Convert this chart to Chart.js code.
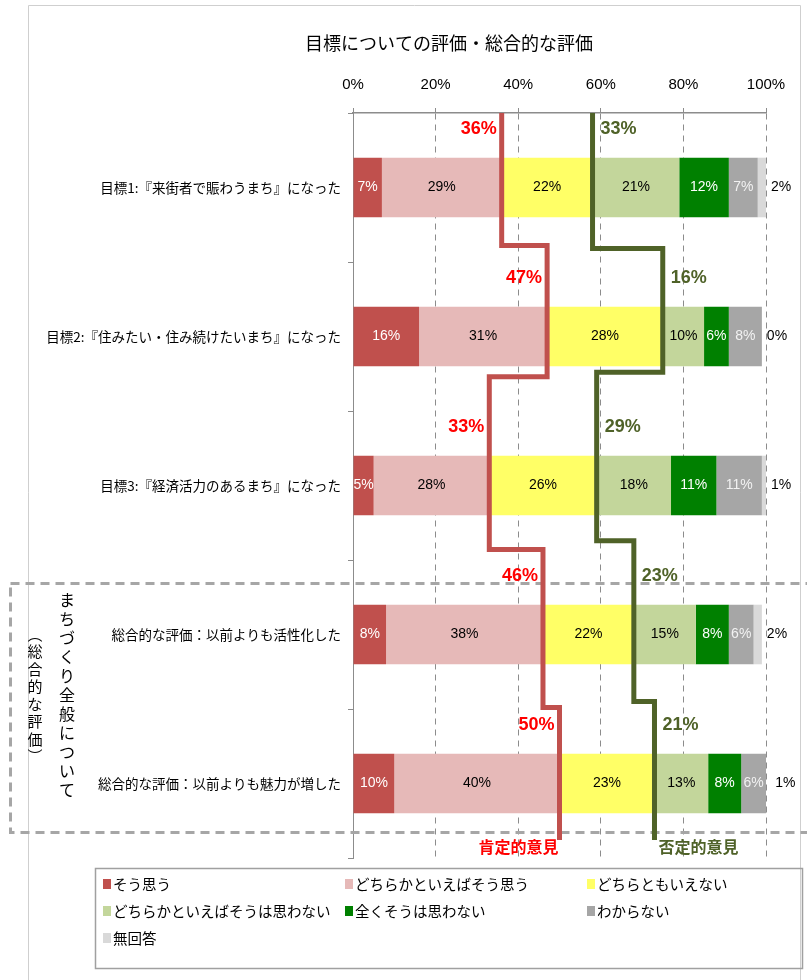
<!DOCTYPE html>
<html><head><meta charset="utf-8">
<script src="https://cdn.jsdelivr.net/npm/chart.js@4.4.1/dist/chart.umd.min.js"></script>
<style>html,body{margin:0;padding:0;background:#fff;}canvas{display:block;}</style>
</head><body>
<canvas id="c" width="807" height="980"></canvas>
<script>
// ---- data ----
const categories = [
  '目標1:『来街者で賑わうまち』になった',
  '目標2:『住みたい・住み続けたいまち』になった',
  '目標3:『経済活力のあるまち』になった',
  '総合的な評価：以前よりも活性化した',
  '総合的な評価：以前よりも魅力が増した'
];
const seriesNames = ['そう思う','どちらかといえばそう思う','どちらともいえない','どちらかといえばそうは思わない','全くそうは思わない','わからない','無回答'];
const soOmou     = [7, 16, 5, 8, 10];
const dochiraSo  = [29, 31, 28, 38, 40];
const dochiraMo  = [22, 28, 26, 22, 23];
const dochiraNot = [21, 10, 18, 15, 13];
const mattakuNot = [12, 6, 11, 8, 8];
const wakaranai  = [7, 8, 11, 6, 6];
const muKaitou   = [2, 0, 1, 2, 1];
const xTickLabels = ['0%','20%','40%','60%','80%','100%'];
const chartTitle = '目標についての評価・総合的な評価';
const groupLabel1 = 'まちづくり全般について';
const groupLabel2 = '︵総合的な評価︶';
const posLabel = '肯定的意見';
const negLabel = '否定的意見';

// ---- styles ----
const barColors = ['#C0504D','#E6B9B8','#FFFF66','#C3D69B','#008000','#A6A6A6','#D9D9D9'];
const barLabelColors = ['#FFFFFF','#000000','#000000','#000000','#FFFFFF','#F2F2F2','#000000'];
const redLine = '#C0504D', greenLine = '#4F6228';
const redText = '#FF0000', greenText = '#4F6228';
const CJK = '"Noto Sans CJK JP", "Noto Sans", sans-serif';
const NUM = '"Liberation Sans Narrow", "Liberation Sans", "Noto Sans", sans-serif';
// step positions (in category units) of the connector lines
const redSteps   = [0.39, 1.27, 2.43, 3.49, 4.38];
const greenSteps = [0.41, 1.24, 2.37, 3.45, 4.38];

const allSeries = [soOmou, dochiraSo, dochiraMo, dochiraNot, mattakuNot, wakaranai, muKaitou];
const posPct = soOmou.map((v,i)=>v + dochiraSo[i]);
const negEdge = posPct.map((v,i)=>v + dochiraMo[i]);
const negPct = dochiraNot.map((v,i)=>v + mattakuNot[i]);

function stepPoints(xs, steps){
  const pts = [{x: xs[0], y: -0.5}];
  for (let i=0;i<xs.length;i++){
    pts.push({x: xs[i], y: steps[i]});
    if (i < xs.length-1) pts.push({x: xs[i+1], y: steps[i]});
  }
  return pts;
}

const datasets = seriesNames.map((n,i)=>({
  type:'bar', label:n, data: allSeries[i], backgroundColor: barColors[i],
  borderWidth:0, barPercentage:0.4, categoryPercentage:1, order:1,
  grouped:false, stack:'s', xAxisID:'x', yAxisID:'y'
}));
datasets.push({
  type:'line', label:'pos', data: stepPoints(posPct, redSteps), borderColor: redLine,
  borderWidth:5, pointRadius:0, tension:0, fill:false, order:0, indexAxis:'y', stack:'r',
  xAxisID:'xLine', yAxisID:'yLine', borderJoinStyle:'miter'
});
datasets.push({
  type:'line', label:'neg', data: stepPoints(negEdge, greenSteps), borderColor: greenLine,
  borderWidth:5, pointRadius:0, tension:0, fill:false, order:0, indexAxis:'y', stack:'g',
  xAxisID:'xLine', yAxisID:'yLine', borderJoinStyle:'miter'
});

const deco = {
  id:'deco',
  beforeDraw(chart){
    const ctx = chart.ctx;
    ctx.save();
    ctx.fillStyle = '#fff'; ctx.fillRect(0,0,chart.width,chart.height);
    ctx.strokeStyle = '#CFCFCF'; ctx.lineWidth = 1;
    ctx.beginPath();
    ctx.moveTo(28.5, 980); ctx.lineTo(28.5, 5.5); ctx.lineTo(800.5, 5.5); ctx.lineTo(800.5, 980);
    ctx.stroke();
    ctx.restore();
  },
  beforeDatasetsDraw(chart){
    const ctx = chart.ctx;
    ctx.save();
    ctx.strokeStyle = '#A6A6A6'; ctx.lineWidth = 3; ctx.setLineDash([9,6]);
    ctx.strokeRect(10.5, 583.5, 830, 249);
    ctx.restore();
  },
  afterDatasetDraw(chart, args){
    if (args.index !== 0) return;
    const ctx = chart.ctx;
    ctx.save();
    ctx.font = '14px ' + NUM;
    ctx.textBaseline = 'middle';
    for (let di=0; di<seriesNames.length; di++){
      const meta = chart.getDatasetMeta(di);
      meta.data.forEach((bar,j)=>{
        const txt = allSeries[di][j] + '%';
        if (di === seriesNames.length-1){
          ctx.textAlign='left'; ctx.fillStyle='#000';
          ctx.fillText(txt, Math.max(bar.x,bar.base)+5, bar.y);
        } else {
          ctx.textAlign='center'; ctx.fillStyle=barLabelColors[di];
          ctx.fillText(txt, (bar.x+bar.base)/2, bar.y);
        }
      });
    }
    ctx.restore();
  },
  afterDraw(chart){
    const ctx = chart.ctx;
    const xs = chart.scales.xLine, yl = chart.scales.yLine;
    ctx.save();
    // title
    ctx.fillStyle = '#000'; ctx.textAlign='center'; ctx.textBaseline='middle';
    ctx.font = '18px ' + CJK;
    ctx.fillText(chartTitle, 449, 43);
    // step labels
    ctx.font = 'bold 18px "Liberation Sans", "Noto Sans", sans-serif';
    for (let i=0;i<categories.length;i++){
      const y = yl.getPixelForValue(i - 0.39);
      ctx.fillStyle = redText; ctx.textAlign='right';
      ctx.fillText(posPct[i]+'%', xs.getPixelForValue(posPct[i]) - 5, y);
      ctx.fillStyle = greenText; ctx.textAlign='left';
      ctx.fillText(negPct[i]+'%', xs.getPixelForValue(negEdge[i]) + 8, y);
    }
    // end labels
    ctx.font = 'bold 16px ' + CJK;
    const yEnd = 847;
    ctx.fillStyle = redText; ctx.textAlign='right';
    ctx.fillText(posLabel, xs.getPixelForValue(posPct[posPct.length-1]) - 1, yEnd);
    ctx.fillStyle = greenText; ctx.textAlign='left';
    ctx.fillText(negLabel, xs.getPixelForValue(negEdge[negEdge.length-1]) + 4, yEnd);
    // vertical group text
    ctx.fillStyle = '#000'; ctx.textAlign='center';
    ctx.font = '16px ' + CJK;
    Array.from(groupLabel1).forEach((ch,k)=>ctx.fillText(ch, 67, 600 + k*19));
    ctx.font = '15px ' + CJK;
    Array.from(groupLabel2).forEach((ch,k)=>ctx.fillText(ch, 35, 634 + k*17.5));
    // legend
    ctx.strokeStyle = '#A0A0A0'; ctx.lineWidth = 1.5;
    ctx.strokeRect(95.5, 868.5, 707, 100);
    const cols = [103, 345, 587], rows = [884, 911, 938];
    ctx.font = '14.5px ' + CJK; ctx.textAlign='left';
    seriesNames.forEach((n,i)=>{
      const cx = cols[i%3], cy = rows[Math.floor(i/3)];
      ctx.fillStyle = barColors[i];
      ctx.fillRect(cx, cy-5, 8, 10);
      ctx.fillStyle = '#000';
      ctx.fillText(n, cx+10, cy);
    });
    ctx.restore();
  }
};

new Chart(document.getElementById('c'), {
  type:'bar',
  data:{ labels: categories, datasets },
  options:{
    indexAxis:'y', responsive:false, animation:false, devicePixelRatio:1,
    layout:{ padding:{ left:0, right:41, top:0, bottom:122 } },
    plugins:{ legend:{display:false}, tooltip:{enabled:false}, title:{display:false} },
    scales:{
      x:{ type:'linear', position:'top', stacked:true, min:0, max:100,
          ticks:{ stepSize:20, padding:14, color:'#000', font:{family:NUM, size:15},
                  callback:(v)=> xTickLabels[Math.round(v/20)] },
          grid:{ color:(c)=> c.tick && c.tick.value===0 ? 'rgba(0,0,0,0)' : '#8C8C8C',
                 lineWidth:1, drawTicks:true, tickLength:5,
                 tickColor:'#8C8C8C', tickBorderDash:[] },
          border:{ display:true, color:'#8C8C8C', width:1.5, dash:[6,5] },
          afterFit:(s)=>{ s.height = 113; } },
      y:{ type:'category', position:'left', stacked:true, offset:true,
          ticks:{ color:'#000', padding:7, font:{family:CJK, size:13.5} },
          grid:{ offset:true, drawOnChartArea:false, drawTicks:true, tickLength:5, color:'#8C8C8C' },
          border:{ display:true, color:'#8C8C8C', width:1 },
          afterFit:(s)=>{ s.width = 353; } },
      xLine:{ type:'linear', display:false, offset:false, min:0, max:100 },
      yLine:{ type:'linear', display:false, offset:false, min:-0.5, max:4.5, reverse:true }
    }
  },
  plugins:[deco]
});
</script>
</body></html>
